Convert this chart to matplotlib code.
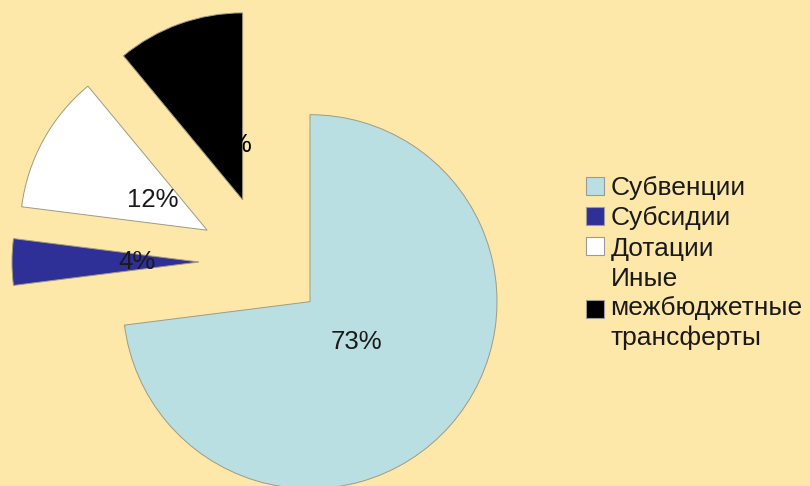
import matplotlib
matplotlib.use("Agg")
import matplotlib.pyplot as plt
from matplotlib.patches import Patch

plt.rcParams['font.family'] = ['Liberation Sans', 'DejaVu Sans']

# data
categories = ['Субвенции', 'Субсидии', 'Дотации', 'Иные\nмежбюджетные\nтрансферты']
shares = [73, 4, 12, 11]
colors = ['#b9dfe3', '#2f2f98', '#ffffff', '#000000']

bg = '#fee8a9'

fig = plt.figure(figsize=(8.1, 4.86), dpi=100, facecolor=bg)
ax = fig.add_axes([0, 0, 1, 1])
ax.set_facecolor(bg)

# pixel-based layout: centre of the un-exploded pie, radius, explode offsets (px)
cx, cy, r = 265, 486 - 262, 187
explode = [60, 66, 66, 66]

wedges, texts, autotexts = ax.pie(
    shares, colors=colors, explode=explode, startangle=90, counterclock=False,
    center=(cx, cy), radius=r, autopct='%d%%', pctdistance=0.33,
    wedgeprops=dict(edgecolor='#a09a80', linewidth=0.7),
    textprops=dict(fontsize=18.5, color='#1a1a1a'),
)
# label on the black slice is black too, as in the original (only its tail shows)
autotexts[3].set_color('#000000')
lx, ly = autotexts[3].get_position()
autotexts[3].set_position((lx + 5, ly - 3))

ax.set_xlim(0, 810)
ax.set_ylim(0, 486)
ax.set_aspect('auto')
ax.axis('off')

handles = [Patch(facecolor=c, edgecolor='#9a9a9a', linewidth=0.8) for c in colors]
leg = fig.legend(handles, categories, loc='center left',
                 bbox_to_anchor=(586 / 810, 1 - 263 / 486),
                 frameon=False, fontsize=19, labelspacing=0.24,
                 handlelength=0.68, handleheight=0.68, handletextpad=0.25,
                 borderpad=0, borderaxespad=0)
for t in leg.get_texts():
    t.set_color('#1a1a1a')
    t.set_linespacing(1.28)

fig.savefig('out.png', dpi=100, facecolor=bg)
